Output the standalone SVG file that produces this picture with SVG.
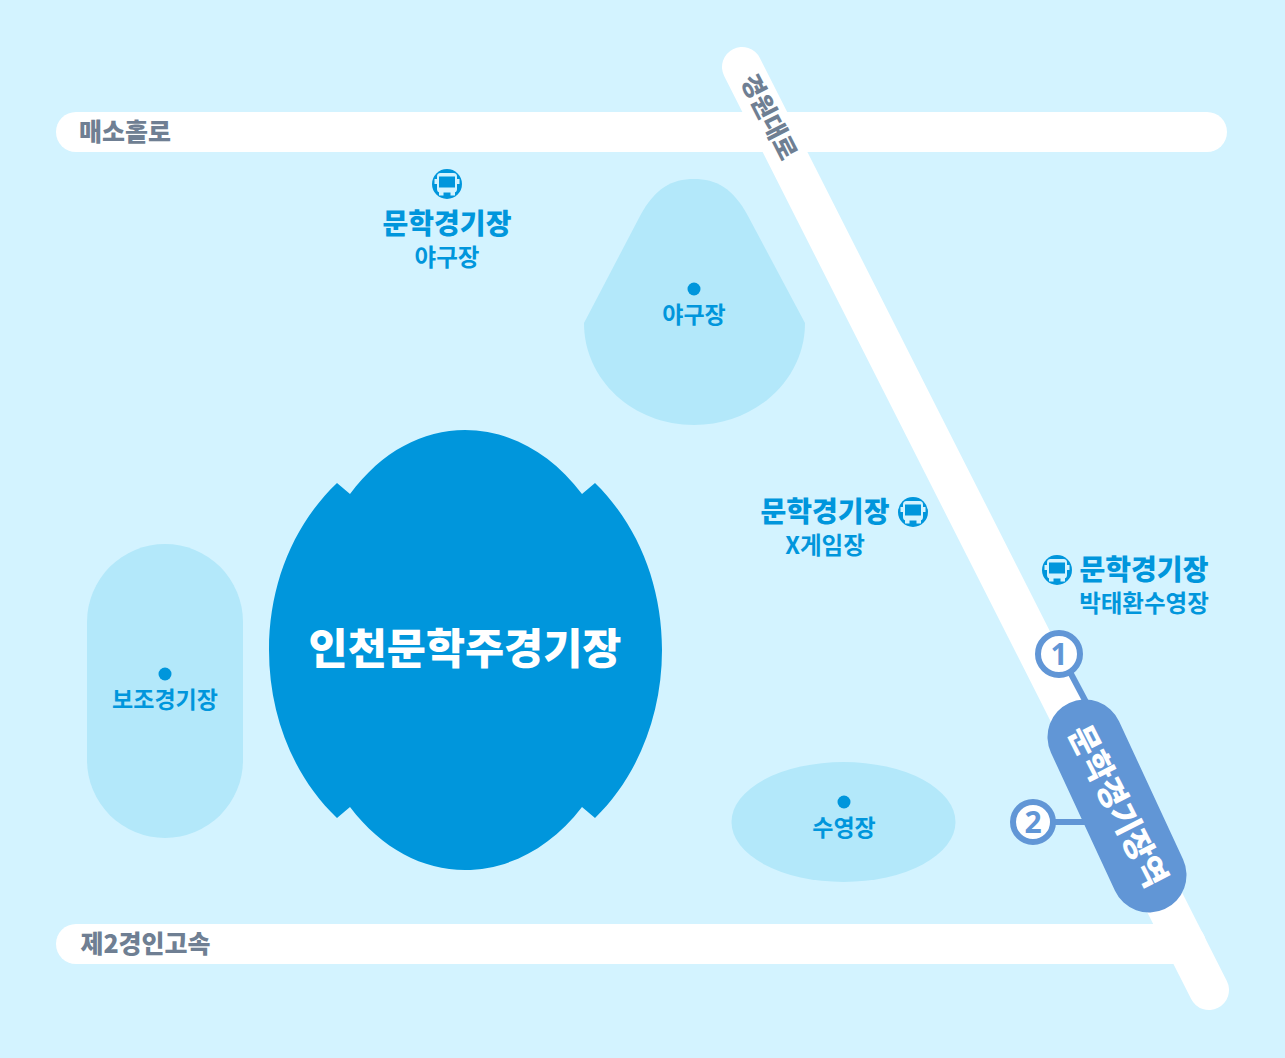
<svg xmlns="http://www.w3.org/2000/svg" width="1285" height="1058" viewBox="0 0 1285 1058">
<style>
text{font-family:"Noto Sans CJK KR","Liberation Sans",sans-serif;text-anchor:middle}
.road{fill:#fff}
.rl{fill:#6f7f93;font-size:25px;font-weight:900}
.zone{fill:#b3e8fa}
.dot{fill:#0096dc}
.zl{fill:#0096dc;font-size:23px;font-weight:700}
.bt{fill:#0096dc;font-size:28px;font-weight:900}
.bs{fill:#0096dc;font-size:23.500px;font-weight:700}
.exit{fill:#fff;stroke:#6196d6;stroke-width:6}
.en{fill:#6196d6;font-size:30px;font-weight:700;font-family:"Noto Sans","Liberation Sans",sans-serif}
</style>
<defs>
<g id="bus">
<circle r="15" fill="#0096dc"/>
<rect x="-12.500" y="-5" width="25" height="5" fill="#d3f3ff"/>
<rect x="-10" y="-11" width="20" height="19.500" rx="3.500" fill="#d3f3ff"/>
<rect x="-8" y="-7.500" width="16" height="11" fill="#0096dc"/>
<rect x="-8" y="8" width="4.500" height="3.500" fill="#d3f3ff"/>
<rect x="3.500" y="8" width="4.500" height="3.500" fill="#d3f3ff"/>
</g>
</defs>
<rect width="1285" height="1058" fill="#d3f3ff"/>
<g id="roads">
<rect id="road-top" class="road" x="56" y="112" width="1171" height="40" rx="20"/>
<rect id="road-bottom" class="road" x="56" y="924" width="1150" height="40" rx="20"/>
<line id="road-diagonal" x1="742" y1="67" x2="1209" y2="990" stroke="#fff" stroke-width="40" stroke-linecap="round"/>
<text class="rl" x="125" y="141">매소홀로</text>
<text class="rl" x="145.500" y="953">제2경인고속</text>
<text class="rl" transform="translate(769 117) rotate(63)" y="9">경원대로</text>
</g>
<g id="baseball">
<path class="zone" d="M584 323L640 216C655 188 672 179 694 179C716 179 733 188 748 216L805 323C805 380 755 425 694 425C633 425 584 380 584 323Z"/>
<circle class="dot" cx="694" cy="289" r="6.500"/>
<text class="zl" x="694" y="323">야구장</text>
</g>
<g id="main-stadium">
<path fill="#0096dc" d="M350 494C382 451 423 430 465 430C507 430 550 451 582 494L595 483C638 525 662 585 662 650C662 715 638 776 595 818L582 807C550 849 507 870 465 870C423 870 382 849 350 807L337 818C293 776 269 715 269 650C269 585 293 525 337 483Z"/>
<text x="465" y="664" fill="#fff" font-size="42.500" font-weight="900">인천문학주경기장</text>
</g>
<g id="sub-field">
<rect class="zone" x="87" y="544" width="156" height="294" rx="78"/>
<circle class="dot" cx="165" cy="674" r="6.500"/>
<text class="zl" x="165" y="708">보조경기장</text>
</g>
<g id="pool">
<ellipse class="zone" cx="843.500" cy="822" rx="112" ry="60"/>
<circle class="dot" cx="844" cy="802" r="6.500"/>
<text class="zl" x="844" y="836">수영장</text>
</g>
<g id="stop-baseball">
<use href="#bus" x="447" y="184"/>
<text class="bt" x="447" y="234">문학경기장</text>
<text class="bs" x="447" y="266">야구장</text>
</g>
<g id="stop-xgame">
<use href="#bus" x="913" y="512"/>
<text class="bt" x="825" y="522">문학경기장</text>
<text class="bs" x="825" y="554">X게임장</text>
</g>
<g id="stop-pool">
<use href="#bus" x="1057" y="570"/>
<text class="bt" x="1144" y="580">문학경기장</text>
<text class="bs" x="1144" y="612">박태환수영장</text>
</g>
<g id="connectors">
<line x1="1070" y1="672" x2="1087" y2="704" stroke="#6196d6" stroke-width="6"/>
<line x1="1054" y1="822" x2="1092" y2="822" stroke="#6196d6" stroke-width="6"/>
</g>
<g id="station">
<line x1="1085" y1="737" x2="1149" y2="875" stroke="#6196d6" stroke-width="75" stroke-linecap="round"/>
<text transform="translate(1118 806) rotate(63)" y="11.500" fill="#fff" font-size="32" font-weight="900">문학경기장역</text>
</g>
<g id="exit-1">
<circle class="exit" cx="1059" cy="654" r="21"/>
<text class="en" x="1059" y="665">1</text>
</g>
<g id="exit-2">
<circle class="exit" cx="1033" cy="822" r="20"/>
<text class="en" x="1033" y="833">2</text>
</g>
</svg>
